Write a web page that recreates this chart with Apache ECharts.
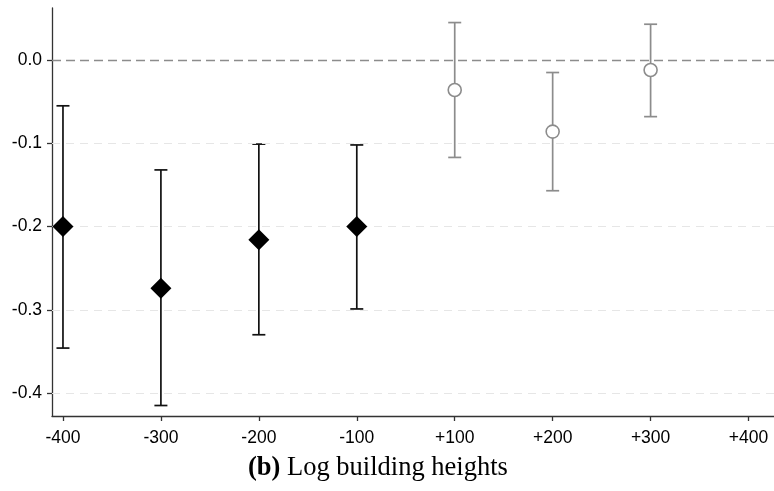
<!DOCTYPE html>
<html><head><meta charset="utf-8">
<script src="https://cdn.jsdelivr.net/npm/echarts@6/dist/echarts.min.js"></script>
<style>html,body{margin:0;padding:0;background:#fff}#c{width:774px;height:491px}</style>
</head><body><div id="c"></div>
<script>
const xLabels = ["-400","-300","-200","-100","+100","+200","+300","+400"];
const yTicks = [0, -0.1, -0.2, -0.3, -0.4];
// pre-period (black diamonds)
const preX = [0, 1, 2, 3];
const preEst = [-0.200, -0.274, -0.216, -0.200];
const preLow = [-0.346, -0.415, -0.330, -0.299];
const preHigh = [-0.055, -0.132, -0.101, -0.102];
// post-period (gray circles)
const postX = [4, 5, 6];
const postEst = [-0.036, -0.086, -0.012];
const postLow = [-0.117, -0.157, -0.068];
const postHigh = [0.045, -0.015, 0.043];

function errSeries(xs, lo, hi, color) {
  return {
    type: 'custom', silent: true, z: 3,
    data: xs.map((x, i) => [x, lo[i], hi[i]]),
    renderItem: function (params, api) {
      const a = api.coord([api.value(0), api.value(1)]);
      const b = api.coord([api.value(0), api.value(2)]);
      const w = 6.5;
      const st = { stroke: color, lineWidth: 1.7, fill: null };
      return { type: 'group', children: [
        { type: 'line', shape: { x1: a[0], y1: a[1], x2: b[0], y2: b[1] }, style: st },
        { type: 'line', shape: { x1: a[0]-w, y1: a[1], x2: a[0]+w, y2: a[1] }, style: st },
        { type: 'line', shape: { x1: b[0]-w, y1: b[1], x2: b[0]+w, y2: b[1] }, style: st }
      ]};
    }
  };
}

const chart = echarts.init(document.getElementById('c'), null, { renderer: 'canvas' });
chart.setOption({
  animation: false,
  backgroundColor: '#fff',
  grid: { left: 52, right: 0, top: 8, bottom: 75 },
  title: {
    text: '{b|(b)} Log building heights',
    left: 248, top: 455, padding: 0,
    textStyle: {
      fontFamily: 'Liberation Serif', fontSize: 26.5, color: '#000', fontWeight: 'normal',
      rich: { b: { fontFamily: 'Liberation Serif', fontSize: 26.5, fontWeight: 'bold', color: '#000' } }
    }
  },
  xAxis: {
    type: 'value', min: -0.112, max: 7.26,
    axisLine: { show: true, onZero: false, lineStyle: { color: '#333', width: 1.3 } },
    axisTick: { show: true, length: 5, customValues: [0,1,2,3,4,5,6,7], lineStyle: { color: '#333', width: 1.3 } },
    axisLabel: { customValues: [0,1,2,3,4,5,6,7], formatter: v => xLabels[Math.round(v)], fontFamily: 'Liberation Sans', fontSize: 17.5, color: '#000', margin: 13 },
    splitLine: { show: false }
  },
  yAxis: {
    type: 'value', min: -0.4276, max: 0.0625,
    axisLine: { show: true, onZero: false, lineStyle: { color: '#333', width: 1.3 } },
    axisTick: { show: true, length: 5, customValues: yTicks, lineStyle: { color: '#333', width: 1.3 } },
    axisLabel: { customValues: yTicks, formatter: v => v.toFixed(1), fontFamily: 'Liberation Sans', fontSize: 17.5, color: '#000', margin: 10 },
    splitLine: { show: false }
  },
  series: [
    {
      type: 'line', data: [], silent: true,
      markLine: {
        silent: true, symbol: 'none', label: { show: false },
        data: yTicks.filter(v => v !== 0).map(v => ({ yAxis: v, lineStyle: { color: '#e6e6e6', type: [8, 6], width: 1.2 } }))
          .concat([{ yAxis: 0, lineStyle: { color: '#8c8c8c', type: [9, 5], width: 1.3 } }])
      }
    },
    errSeries(preX, preLow, preHigh, '#111'),
    errSeries(postX, postLow, postHigh, '#8c8c8c'),
    {
      type: 'scatter', z: 5, symbol: 'diamond', symbolSize: [21, 21],
      itemStyle: { color: '#000', opacity: 1 },
      data: preX.map((x, i) => [x, preEst[i]])
    },
    {
      type: 'scatter', z: 5, symbol: 'circle', symbolSize: 13,
      itemStyle: { color: '#fff', borderColor: '#8c8c8c', borderWidth: 1.6, opacity: 1 },
      data: postX.map((x, i) => [x, postEst[i]])
    }
  ]
});
</script></body></html>
